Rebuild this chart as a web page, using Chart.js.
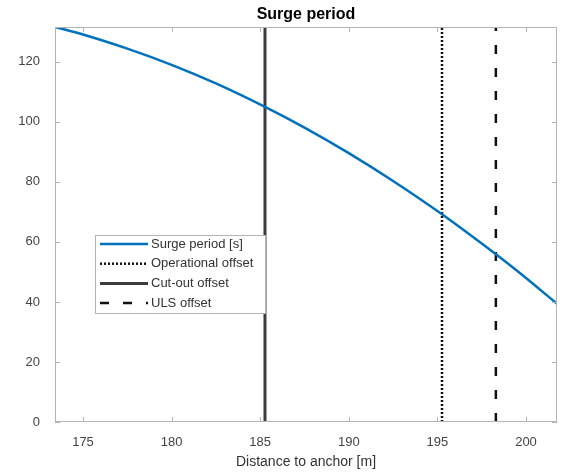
<!DOCTYPE html>
<html>
<head>
<meta charset="utf-8">
<script src="https://cdn.jsdelivr.net/npm/chart.js@4/dist/chart.umd.min.js"></script>
<style>
  html, body { margin: 0; padding: 0; background: #fff; }
  #wrap { width: 580px; height: 473px; }
</style>
</head>
<body>
<div id="wrap"><canvas id="chart"></canvas></div>
<script>
// values
const distance = [173.42, 175, 177.5, 180, 182.5, 185.27, 187.5, 190, 192.5, 195.26, 198.3, 200, 201.75];
const surgePeriod = [131.6, 129.1, 124.4, 119.0, 112.8, 105.0, 98.1, 89.6, 80.3, 69.2, 55.9, 48.0, 39.4];
const operationalOffset = 195.26;
const cutoutOffset = 185.27;
const ulsOffset = 198.3;
const xTicks = [175, 180, 185, 190, 195, 200];
const yTicks = [0, 20, 40, 60, 80, 100, 120];
const xRange = [173.42, 201.75];
const yRange = [0, 131.6];

const FONT = "'Liberation Sans', Arial, sans-serif";
const AXIS_GRAY = '#b4b4b4';

function vline(x) {
    return [{ x: x, y: yRange[0] }, { x: x, y: yRange[1] }];
}

// axes box with inward ticks, title and the in-plot legend (matlab style)
const matlabFrame = {
    id: 'matlabFrame',
    afterDatasetsDraw (chart) {
        const { ctx, chartArea: a, scales } = chart;
        ctx.save();
        ctx.strokeStyle = AXIS_GRAY;
        ctx.lineWidth = 1;
        ctx.strokeRect(a.left + 0.5, a.top + 0.5, a.right - a.left - 1, a.bottom - a.top - 1);
        ctx.beginPath();
        xTicks.forEach(v => {
            const px = Math.round(scales.x.getPixelForValue(v)) + 0.5;
            ctx.moveTo(px, a.bottom); ctx.lineTo(px, a.bottom - 5);
            ctx.moveTo(px, a.top); ctx.lineTo(px, a.top + 5);
        });
        yTicks.forEach(v => {
            const py = Math.round(scales.y.getPixelForValue(v)) + 0.5;
            ctx.moveTo(a.left, py); ctx.lineTo(a.left + 5, py);
            ctx.moveTo(a.right, py); ctx.lineTo(a.right - 5, py);
        });
        ctx.stroke();

        // title
        ctx.fillStyle = '#000';
        ctx.font = 'bold 16px ' + FONT;
        ctx.textAlign = 'center';
        ctx.textBaseline = 'middle';
        ctx.fillText('Surge period', (a.left + a.right) / 2, 15);

        // legend
        const lx = 95, ly = 235, lw = 170, lh = 78;
        ctx.fillStyle = '#fff';
        ctx.fillRect(lx, ly, lw, lh);
        ctx.strokeStyle = AXIS_GRAY;
        ctx.strokeRect(lx + 0.5, ly + 0.5, lw, lh);
        ctx.font = '13px ' + FONT;
        ctx.textAlign = 'left';
        chart.data.datasets.forEach((ds, i) => {
            const y = ly + 9 + i * 19.7;
            ctx.beginPath();
            ctx.strokeStyle = ds.borderColor;
            ctx.lineWidth = ds.borderWidth;
            ctx.setLineDash(ds.borderDash || []);
            ctx.moveTo(lx + 5, y);
            ctx.lineTo(lx + 53, y);
            ctx.stroke();
            ctx.setLineDash([]);
            ctx.fillStyle = '#333';
            ctx.fillText(ds.label, lx + 56, y);
        });
        ctx.restore();
    }
};

const ctx = document.getElementById('chart');

new Chart(ctx, {
    type: 'line',
    data: {
        datasets: [
            {
                label: 'Surge period [s]',
                data: distance.map((d, i) => ({ x: d, y: surgePeriod[i] })),
                borderColor: '#0072BD',
                borderWidth: 2.5,
                pointRadius: 0,
                tension: 0.3,
                order: 0
            },
            {
                label: 'Operational offset',
                data: vline(operationalOffset),
                borderColor: '#111',
                borderWidth: 2.5,
                borderDash: [2, 2],
                pointRadius: 0,
                order: 1
            },
            {
                label: 'Cut-out offset',
                data: vline(cutoutOffset),
                borderColor: '#3c3c3c',
                borderWidth: 3,
                pointRadius: 0,
                order: 1
            },
            {
                label: 'ULS offset',
                data: vline(ulsOffset),
                borderColor: '#111',
                borderWidth: 2.5,
                borderDash: [9, 14],
                pointRadius: 0,
                order: 1
            }
        ]
    },
    options: {
        responsive: true,
        maintainAspectRatio: false,
        animation: false,
        layout: { padding: { top: 27, right: 23, left: 0, bottom: 0 } },
        scales: {
            x: {
                type: 'linear',
                min: xRange[0],
                max: xRange[1],
                afterBuildTicks: s => { s.ticks = xTicks.map(v => ({ value: v })); },
                afterFit: s => { s.height = 51; },
                grid: { display: false },
                border: { display: false },
                ticks: { padding: 5, color: '#444', font: { family: FONT, size: 13 } },
                title: {
                    display: true,
                    text: 'Distance to anchor [m]',
                    color: '#333',
                    font: { family: FONT, size: 14 },
                    padding: { top: 0, bottom: 2 }
                }
            },
            y: {
                type: 'linear',
                min: yRange[0],
                max: yRange[1],
                afterBuildTicks: s => { s.ticks = yTicks.map(v => ({ value: v })); },
                afterFit: s => { s.width = 55; },
                grid: { display: false },
                border: { display: false },
                ticks: { padding: 7, color: '#444', font: { family: FONT, size: 13 } }
            }
        },
        plugins: {
            legend: { display: false },
            title: { display: false },
            tooltip: { enabled: false }
        }
    },
    plugins: [matlabFrame]
});
</script>
</body>
</html>
